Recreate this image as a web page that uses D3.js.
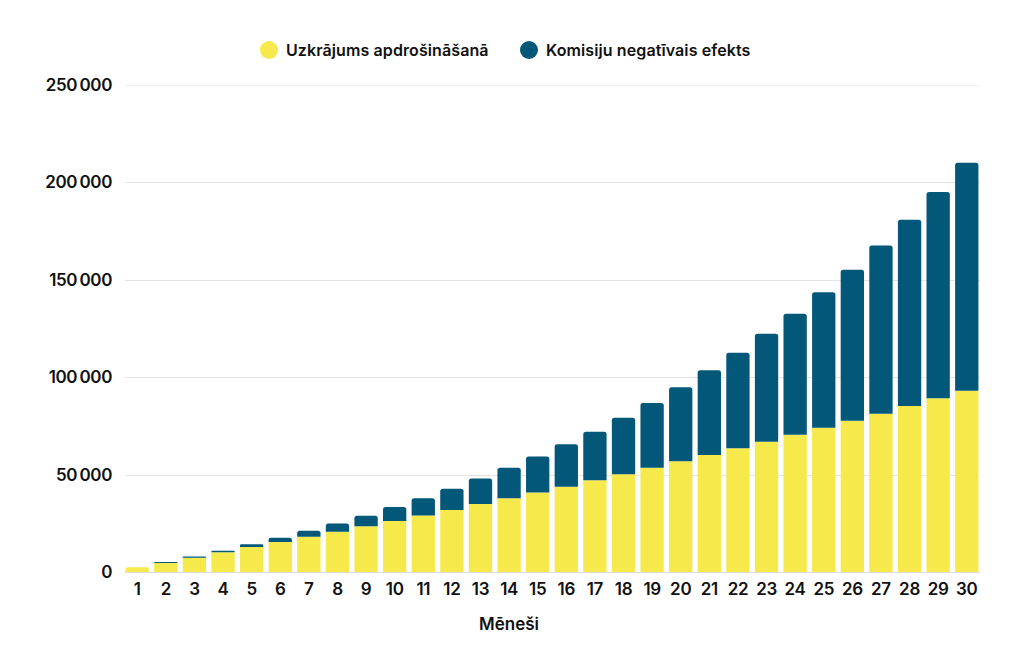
<!DOCTYPE html>
<html>
<head>
<meta charset="utf-8">
<script src="https://cdn.jsdelivr.net/npm/d3@7"></script>
<style>
  body { margin: 0; background: #fff; }
  text { font-family: Inter, "Noto Sans", sans-serif; fill: #111; }
</style>
</head>
<body>
<div id="chart"></div>
<script>
// months on the x axis
var months = d3.range(1, 31).map(String);
// savings in insurance (yellow)
var savings = [2400, 4600, 7300, 10100, 12800, 15400, 18100, 20700, 23400, 26200,
               29000, 31800, 34900, 37800, 40800, 43700, 47000, 50100, 53500, 56800,
               60000, 63400, 66800, 70400, 74000, 77600, 81200, 85100, 89100, 93000];
// negative effect of fees (blue)
var fees = [0, 500, 700, 800, 1400, 2200, 3100, 4200, 5500, 7100,
            8800, 10900, 13100, 15700, 18400, 21800, 24900, 29000, 33200, 37900,
            43400, 49100, 55400, 62100, 69400, 77400, 86300, 95600, 105800, 116900];
var yTicks = [0, 50000, 100000, 150000, 200000, 250000];
var seriesNames = ["Uzkrājums apdrošināšanā", "Komisiju negatīvais efekts"];
var colors = ["#f6e94b", "#03587a"];

var width = 1024, height = 656;
var svg = d3.select("#chart").append("svg")
    .attr("width", width)
    .attr("height", height);

var x = d3.scaleBand()
    .domain(months)
    .range([123, 981])
    .paddingInner(0.185)
    .paddingOuter(0.09);

var y = d3.scaleLinear()
    .domain([0, 250000])
    .range([572, 84.5]);

var fmt = function (d) { return d3.format(",")(d).replace(/,/g, "\u2009"); };

// gridlines
svg.append("g")
  .selectAll("line")
  .data(yTicks)
  .enter()
  .append("line")
    .attr("x1", 125)
    .attr("x2", 980)
    .attr("y1", function (d) { return Math.round(y(d)) + 0.5; })
    .attr("y2", function (d) { return Math.round(y(d)) + 0.5; })
    .attr("stroke", function (d) { return d === 0 ? "#dcdcdc" : (d === 250000 ? "#f0f0f0" : "#e4e4e4"); })
    .attr("stroke-width", 1);

// y labels
svg.append("g")
  .selectAll("text")
  .data(yTicks)
  .enter()
  .append("text")
    .attr("x", 112)
    .attr("y", function (d) { return y(d); })
    .attr("dy", "0.36em")
    .attr("text-anchor", "end")
    .attr("font-size", 17)
    .attr("font-weight", 600)
    .attr("letter-spacing", -0.4)
    .text(fmt);

// stacked data
var rows = months.map(function (m, i) { return { m: m, s: savings[i], f: fees[i] }; });
var stack = d3.stack().keys(["s", "f"])(rows);

function barPath(x0, w, yTop, yBot, r) {
  r = Math.min(r, (yBot - yTop) / 2, w / 2);
  if (r <= 0) return "M" + x0 + "," + yBot + "h" + w + "V" + yTop + "h" + (-w) + "Z";
  return "M" + x0 + "," + yBot +
    "V" + (yTop + r) +
    "Q" + x0 + "," + yTop + " " + (x0 + r) + "," + yTop +
    "H" + (x0 + w - r) +
    "Q" + (x0 + w) + "," + yTop + " " + (x0 + w) + "," + (yTop + r) +
    "V" + yBot + "Z";
}

svg.append("g")
  .selectAll("g")
  .data(stack)
  .enter()
  .append("g")
    .attr("fill", function (d, i) { return colors[i]; })
  .selectAll("path")
  .data(function (d) { return d.map(function (p) { p.key = d.key; return p; }); })
  .enter()
  .append("path")
    .attr("d", function (d) {
      if (d[1] - d[0] <= 0) return null;
      var isTop = d.key === "f" || d.data.f === 0;
      return barPath(x(d.data.m), x.bandwidth(), y(d[1]), y(d[0]), isTop ? 2.5 : 0);
    });

// x labels
svg.append("g")
  .selectAll("text")
  .data(months)
  .enter()
  .append("text")
    .attr("x", function (d) { return x(d) + x.bandwidth() / 2; })
    .attr("y", 588.5)
    .attr("dy", "0.36em")
    .attr("text-anchor", "middle")
    .attr("font-size", 17)
    .attr("font-weight", 600)
    .attr("letter-spacing", -0.3)
    .text(function (d) { return d; });

svg.append("text")
  .attr("x", 509)
  .attr("y", 623.5)
  .attr("dy", "0.36em")
  .attr("text-anchor", "middle")
  .attr("font-size", 17)
  .attr("font-weight", 600)
  .text("Mēneši");

// legend
var legendX = [269, 529];
var legend = svg.append("g")
  .selectAll("g")
  .data(seriesNames)
  .enter()
  .append("g")
    .attr("transform", function (d, i) { return "translate(" + legendX[i] + ",50)"; });
legend.append("circle")
  .attr("r", 9)
  .attr("fill", function (d, i) { return colors[i]; });
legend.append("text")
  .attr("x", 17)
  .attr("dy", "0.36em")
  .attr("font-size", 16)
  .attr("font-weight", 600)
  .attr("letter-spacing", 0.1)
  .text(function (d) { return d; });
</script>
</body>
</html>
